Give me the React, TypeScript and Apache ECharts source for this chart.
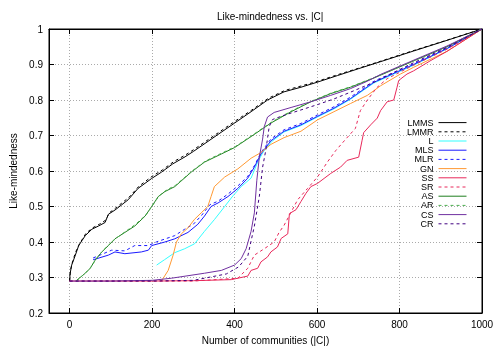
import React, { useEffect, useRef } from "react";
import * as echarts from "echarts";

const xTicks = [0, 200, 400, 600, 800, 1000];
const yTicks = [0.2, 0.3, 0.4, 0.5, 0.6, 0.7, 0.8, 0.9, 1];

const LMMS = [[0,0.29],[1,0.31],[5,0.335],[13,0.36],[22,0.39],[30,0.404],[38,0.418],[54,0.436],[70,0.445],[86,0.455],[94,0.478],[110,0.49],[142,0.519],[166,0.551],[199,0.579],[223,0.597],[250,0.62],[280,0.64],[300,0.655],[360,0.703],[400,0.735],[440,0.767],[480,0.8],[520,0.823],[561,0.836],[600,0.85],[650,0.869],[700,0.888],[754,0.908],[834,0.938],[915,0.968],[1000,1]];
const LMMR = [[0,0.29],[2,0.32],[6,0.34],[14,0.37],[24,0.395],[32,0.41],[40,0.425],[56,0.44],[72,0.45],[88,0.462],[96,0.482],[112,0.496],[144,0.526],[168,0.557],[200,0.585],[225,0.603],[252,0.626],[282,0.646],[302,0.661],[362,0.709],[402,0.741],[442,0.772],[482,0.805],[522,0.827],[563,0.84],[602,0.853],[652,0.872],[702,0.89],[756,0.91],[836,0.94],[916,0.969],[1000,1]];
const L = [[211,0.335],[230,0.35],[255,0.37],[279,0.381],[303,0.395],[327,0.43],[351,0.463],[376,0.5],[396,0.53],[416,0.556],[440,0.58],[456,0.625],[470,0.655],[490,0.683],[520,0.71],[561,0.728],[601,0.752],[641,0.775],[681,0.802],[738,0.848],[834,0.898],[915,0.944],[1000,1]];
const MLS = [[57,0.35],[94,0.363],[110,0.372],[134,0.367],[174,0.372],[191,0.377],[199,0.39],[231,0.4],[255,0.409],[287,0.427],[311,0.45],[327,0.473],[343,0.5],[360,0.51],[384,0.528],[408,0.551],[432,0.58],[448,0.611],[464,0.648],[488,0.685],[520,0.712],[561,0.73],[601,0.754],[641,0.777],[681,0.804],[738,0.85],[834,0.9],[915,0.945],[1000,1]];
const MLR = [[57,0.355],[102,0.377],[134,0.375],[158,0.39],[191,0.39],[210,0.4],[235,0.41],[255,0.418],[279,0.436],[300,0.45],[320,0.475],[340,0.505],[360,0.515],[384,0.535],[408,0.558],[432,0.585],[448,0.615],[464,0.652],[488,0.69],[520,0.716],[561,0.734],[601,0.758],[641,0.781],[681,0.808],[738,0.853],[834,0.902],[915,0.946],[1000,1]];
const GN = [[222,0.29],[227,0.298],[239,0.32],[251,0.363],[259,0.4],[271,0.423],[287,0.44],[303,0.464],[319,0.482],[335,0.5],[343,0.528],[351,0.556],[376,0.583],[408,0.606],[440,0.636],[464,0.652],[488,0.675],[520,0.694],[561,0.712],[601,0.744],[641,0.767],[681,0.79],[722,0.813],[754,0.84],[802,0.873],[834,0.892],[915,0.937],[1000,1]];
const SS = [[0,0.29],[200,0.29],[300,0.291],[392,0.294],[432,0.304],[440,0.32],[456,0.326],[464,0.344],[480,0.358],[488,0.372],[504,0.386],[513,0.41],[529,0.423],[533,0.48],[549,0.491],[561,0.514],[573,0.537],[585,0.556],[601,0.565],[617,0.579],[633,0.593],[657,0.611],[673,0.63],[701,0.639],[709,0.685],[713,0.708],[730,0.73],[746,0.749],[754,0.77],[770,0.795],[786,0.8],[794,0.836],[798,0.855],[818,0.873],[834,0.882],[874,0.91],[915,0.937],[1000,1]];
const SR = [[0,0.29],[300,0.29],[408,0.298],[432,0.326],[448,0.363],[472,0.381],[496,0.4],[508,0.427],[520,0.447],[532,0.473],[553,0.519],[577,0.551],[601,0.583],[625,0.625],[645,0.657],[669,0.689],[693,0.72],[705,0.77],[722,0.8],[745,0.835],[770,0.86],[834,0.898],[915,0.943],[1000,1]];
const AS = [[17,0.292],[38,0.312],[50,0.326],[62,0.349],[78,0.372],[94,0.39],[110,0.409],[134,0.427],[158,0.445],[183,0.473],[199,0.5],[215,0.528],[231,0.542],[255,0.556],[295,0.597],[327,0.625],[368,0.648],[400,0.666],[440,0.697],[488,0.735],[537,0.767],[585,0.795],[633,0.818],[681,0.836],[738,0.862],[834,0.91],[915,0.95],[1000,1]];
const AR = [[17,0.29],[40,0.315],[52,0.33],[64,0.352],[80,0.375],[96,0.393],[112,0.41],[136,0.43],[160,0.45],[185,0.476],[201,0.503],[217,0.53],[233,0.545],[257,0.56],[297,0.6],[329,0.628],[370,0.651],[402,0.669],[442,0.7],[490,0.738],[539,0.77],[587,0.797],[635,0.82],[683,0.838],[740,0.864],[836,0.911],[916,0.951],[1000,1]];
const CS = [[0,0.29],[100,0.29],[200,0.292],[247,0.298],[327,0.312],[368,0.32],[400,0.335],[416,0.353],[428,0.381],[440,0.43],[448,0.482],[454,0.574],[460,0.639],[468,0.69],[472,0.725],[480,0.752],[496,0.765],[537,0.779],[585,0.795],[633,0.813],[681,0.832],[722,0.853],[754,0.872],[834,0.912],[915,0.952],[1000,1]];
const CR = [[0,0.29],[200,0.29],[300,0.292],[380,0.31],[410,0.33],[432,0.36],[448,0.445],[460,0.528],[468,0.611],[476,0.66],[484,0.725],[492,0.745],[520,0.757],[561,0.772],[601,0.787],[641,0.803],[681,0.822],[738,0.85],[834,0.905],[915,0.948],[1000,1]];

const seriesDefs = [
  { name: "LMMS", data: LMMS, color: "#000000", type: "solid" },
  { name: "LMMR", data: LMMR, color: "#000000", type: "dashed" },
  { name: "L", data: L, color: "#33ffff", type: "solid" },
  { name: "MLS", data: MLS, color: "#1a1aff", type: "solid" },
  { name: "MLR", data: MLR, color: "#1a1aff", type: "dashed" },
  { name: "GN", data: GN, color: "#ff9933", type: "solid" },
  { name: "SS", data: SS, color: "#e8285a", type: "solid" },
  { name: "SR", data: SR, color: "#e8285a", type: "dashed" },
  { name: "AS", data: AS, color: "#1f7f1f", type: "solid" },
  { name: "AR", data: AR, color: "#4caf50", type: "dashed" },
  { name: "CS", data: CS, color: "#7030a0", type: "solid" },
  { name: "CR", data: CR, color: "#400080", type: "dashed" },
];

const FONT = "'Liberation Sans', Arial, sans-serif";

export default function App() {
  const ref = useRef<HTMLDivElement>(null);
  useEffect(() => {
    if (!ref.current) return;
    const chart = echarts.init(ref.current, null, { renderer: "svg" });
    const gridLine = { show: true, lineStyle: { color: "#aaaaaa", type: [1, 2] as any, width: 1 } };
    chart.setOption({
      animation: false,
      textStyle: { fontFamily: FONT },
      title: {
        text: "Like-mindedness vs. |C|",
        left: 212,
        top: 6,
        textStyle: { fontSize: 10, fontWeight: "normal", color: "#000", fontFamily: FONT },
      },
      grid: { left: 47, right: 18, top: 29, bottom: 31, show: true, borderColor: "#000", borderWidth: 1, backgroundColor: "transparent" },
      legend: {
        orient: "vertical",
        right: 28,
        top: 113,
        align: "right",
        itemWidth: 28,
        itemHeight: 8,
        itemGap: 0,
        itemStyle: { opacity: 0 },
        lineStyle: { width: 1 },
        textStyle: { fontSize: 9, color: "#000", fontFamily: FONT, lineHeight: 9.2 },
        data: seriesDefs.map((s) => s.name),
      },
      xAxis: [
        {
          type: "value",
          min: -50,
          max: 1000,
          name: "Number of communities (|C|)",
          nameLocation: "middle",
          nameGap: 22,
          nameTextStyle: { fontSize: 10, color: "#000", fontFamily: FONT },
          axisLine: { show: true, onZero: false, lineStyle: { color: "#000" } },
          axisTick: { show: true, inside: true, length: 5, lineStyle: { color: "#000" }, customValues: xTicks },
          axisLabel: { show: true, color: "#000", fontSize: 10, margin: 6, customValues: xTicks, fontFamily: FONT, formatter: (v: number) => String(v) },
          splitLine: gridLine,
        },
        {
          type: "value",
          position: "top",
          min: -50,
          max: 1000,
          axisLine: { show: true, onZero: false, lineStyle: { color: "#000" } },
          axisTick: { show: true, inside: true, length: 5, lineStyle: { color: "#000" }, customValues: xTicks },
          axisLabel: { show: false, customValues: xTicks },
          splitLine: { show: false },
        },
      ],
      yAxis: [
        {
          type: "value",
          min: 0.2,
          max: 1,
          interval: 0.1,
          name: "Like-mindedness",
          nameLocation: "middle",
          nameGap: 31,
          nameTextStyle: { fontSize: 10, color: "#000", fontFamily: FONT },
          axisLine: { show: true, onZero: false, lineStyle: { color: "#000" } },
          axisTick: { show: true, inside: true, length: 5, lineStyle: { color: "#000" }, customValues: yTicks },
          axisLabel: {
            show: true, color: "#000", fontSize: 10, margin: 6, customValues: yTicks, fontFamily: FONT,
            formatter: (v: number) => String(Math.round(v * 10) / 10),
          },
          splitLine: gridLine,
        },
        {
          type: "value",
          position: "right",
          min: 0.2,
          max: 1,
          interval: 0.1,
          axisLine: { show: true, onZero: false, lineStyle: { color: "#000" } },
          axisTick: { show: true, inside: true, length: 5, lineStyle: { color: "#000" }, customValues: yTicks },
          axisLabel: { show: false, customValues: yTicks },
          splitLine: { show: false },
        },
      ],
      series: seriesDefs.map((s) => ({
        name: s.name,
        type: "line",
        data: s.data,
        symbol: "none",
        color: s.color,
        lineStyle: { color: s.color, width: 1, type: s.type === "dashed" ? [3, 3] : "solid" },
        itemStyle: { color: s.color },
        emphasis: { disabled: true },
      })),
    });
    return () => chart.dispose();
  }, []);
  return <div ref={ref} style={{ position: "fixed", left: 0, top: 0, width: 500, height: 350 }} />;
}
